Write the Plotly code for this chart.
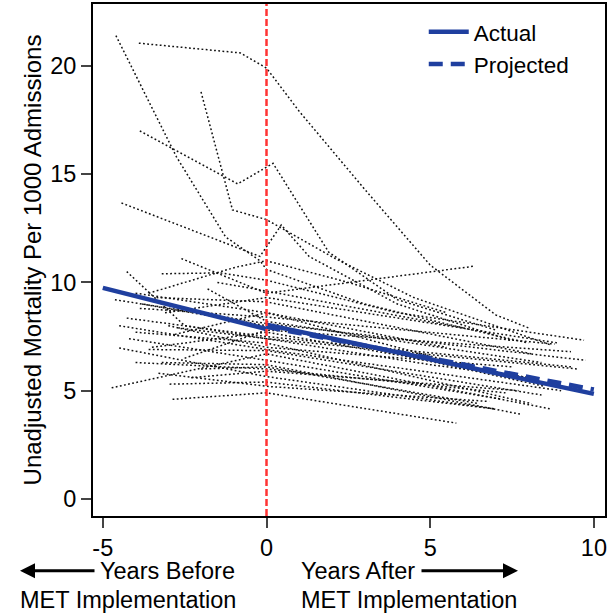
import plotly.graph_objects as go

# ---- data: individual hospital trajectories (years relative to MET, mortality per 1000) ----
hosp_x = [
    [-3.9, -0.8, 0, 1, 3, 5, 7, 8],
    [-4.6, -2.75, -1.25, -0.2, 0, 3, 6, 8],
    [-3.87, -0.88, 0.2, 1.9, 4, 7],
    [-2.0, -1.04, 0, 0.8, 2.1, 4.5, 8.7],
    [-4.43, -0.2, 0.45, 1.3, 4, 7.5],
    [-3.6, -0.95, 0, 2.5, 5.5],
    [-2.6, 0, 6.35],
    [-3.2, -1.4, 0, 4, 9.7],
    [-4.27, -2.5, 0, 5, 8],
    [-4.63, 0, 9.75],
    [-4.27, 0, 9.3],
    [-4.5, 0, 7],
    [-4.73, 0, 8.7],
    [-2.87, 0, 5.8],
    [-3.6, 0, 8.4],
    [-3.2, 0, 7.8],
    [-2.96, 0, 7.0],
    [-3.87, 0, 8.8],
    [-3.36, 0, 8.1],
    [-4.0, 0, 8.1],
    [-3.0, 0, 7.5],
    [-2.5, 0, 9.3],
    [-3.8, 0, 8.5],
    [-4.2, 0, 7.2],
    [-2.0, 0, 6.5],
    [-3.5, 0, 8.0],
    [-1.5, 0, 6.0],
    [-4.5, 0, 9.0],
    [-2.3, 0, 7.7],
    [-3.1, 0, 8.9],
    [-2.8, 0, 5.5],
    [-4.0, 0, 7.3],
    [-1.8, 0, 8.4],
    [-3.3, 0, 6.8],
    [-2.7, 0, 9.5],
    [-4.0, 0, 7.0],
]
hosp_y = [
    [21.05, 20.6, 19.9, 17.9, 14.3, 10.8, 8.5, 7.9],
    [21.4, 15.8, 12.1, 11.0, 10.6, 9.0, 7.9, 7.2],
    [17.0, 14.55, 15.5, 11.4, 9.2, 7.8],
    [18.8, 13.35, 12.9, 12.2, 11.1, 9.3, 7.1],
    [13.67, 11.2, 12.65, 11.2, 9.0, 7.3],
    [9.5, 10.7, 11.0, 10.0, 8.6],
    [11.1, 9.5, 10.75],
    [10.4, 10.44, 10.1, 8.6, 7.33],
    [10.5, 8.0, 7.4, 6.2, 5.6],
    [9.2, 8.1, 6.4],
    [8.35, 7.5, 6.1],
    [6.97, 5.65, 4.15],
    [5.13, 6.7, 4.15],
    [4.6, 4.9, 3.5],
    [6.9, 6.85, 4.8],
    [6.3, 6.2, 3.9],
    [5.3, 5.4, 4.15],
    [8.8, 8.4, 7.15],
    [9.3, 9.1, 6.7],
    [7.7, 7.2, 4.4],
    [8.0, 7.0, 6.1],
    [6.5, 7.8, 6.8],
    [9.0, 8.0, 5.2],
    [7.4, 6.4, 4.6],
    [6.0, 6.1, 4.4],
    [7.0, 7.7, 5.6],
    [10.0, 9.6, 7.9],
    [8.0, 6.9, 5.0],
    [5.6, 5.9, 5.0],
    [8.6, 9.3, 7.2],
    [7.6, 8.6, 7.0],
    [6.3, 6.0, 4.9],
    [9.7, 8.2, 6.3],
    [5.8, 5.2, 4.5],
    [7.9, 7.4, 6.0],
    [9.5, 8.6, 5.8],
]

# pooled trends
actual_pre_x = [-5, 0]
actual_pre_y = [9.75, 7.85]
actual_post_x = [0, 10]
actual_post_y = [8.05, 4.85]
projected_x = [0, 10]
projected_y = [7.95, 5.05]

x_ticks = [-5, 0, 5, 10]
x_tick_labels = ["-5", "0", "5", "10"]
y_ticks = [0, 5, 10, 15, 20]

BLUE = "#1f3f9f"
FONT = "Liberation Sans, Arial, sans-serif"

fig = go.Figure()
for xs, ys in zip(hosp_x, hosp_y):
    fig.add_trace(go.Scatter(x=xs, y=ys, mode="lines", showlegend=False,
                             line=dict(color="#111111", width=1.5, dash="1.8px,2.4px"),
                             hoverinfo="skip"))

fig.add_trace(go.Scatter(x=actual_pre_x, y=actual_pre_y, mode="lines", name="Actual",
                         line=dict(color=BLUE, width=4.5), legendgroup="a"))
fig.add_trace(go.Scatter(x=actual_post_x, y=actual_post_y, mode="lines", showlegend=False,
                         line=dict(color=BLUE, width=4.5), legendgroup="a"))
fig.add_trace(go.Scatter(x=projected_x, y=projected_y, mode="lines", name="Projected",
                         line=dict(color=BLUE, width=4.5, dash="14px,8px")))

fig.add_vline(x=0, line=dict(color="#ff3333", width=2.5, dash="7px,3px"))

ann = []
yrow1 = -0.107
yrow2 = -0.165
def px2paper(px):
    return (px - 93) / 512.0

TF = dict(size=23.5, color="black", family=FONT)
ann.append(dict(x=px2paper(20), y=yrow1, ax=76, ay=0, xref="paper", yref="paper",
                axref="pixel", ayref="pixel", text="", showarrow=True, arrowhead=2,
                arrowsize=1.0, arrowwidth=3, arrowcolor="black"))
ann.append(dict(x=px2paper(518), y=yrow1, ax=-98, ay=0, xref="paper", yref="paper",
                axref="pixel", ayref="pixel", text="", showarrow=True, arrowhead=2,
                arrowsize=1.0, arrowwidth=3, arrowcolor="black"))
ann.append(dict(x=px2paper(237), y=yrow1, xref="paper", yref="paper", text="Years Before",
                showarrow=False, xanchor="right", yanchor="middle", font=TF))
ann.append(dict(x=px2paper(18), y=yrow2, xref="paper", yref="paper", text="MET Implementation",
                showarrow=False, xanchor="left", yanchor="middle", font=TF))
ann.append(dict(x=px2paper(299), y=yrow1, xref="paper", yref="paper", text="Years After",
                showarrow=False, xanchor="left", yanchor="middle", font=TF))
ann.append(dict(x=px2paper(299), y=yrow2, xref="paper", yref="paper", text="MET Implementation",
                showarrow=False, xanchor="left", yanchor="middle", font=TF))

fig.update_layout(
    width=608, height=615,
    margin=dict(l=93, r=3, t=4, b=99, autoexpand=False),
    paper_bgcolor="white", plot_bgcolor="white",
    font=dict(family=FONT, size=22, color="black"),
    annotations=ann,
    legend=dict(x=0.646, y=0.987, xanchor="left", yanchor="top", bgcolor="rgba(0,0,0,0)",
                font=dict(size=22.5, family=FONT), tracegroupgap=0, itemwidth=40),
    xaxis=dict(range=[-5.3, 10.34], tickvals=x_ticks, ticktext=x_tick_labels, ticks="outside",
               ticklen=10, tickwidth=1.5, automargin=False,
               showgrid=False, zeroline=False, showline=True, linecolor="black", linewidth=2,
               mirror=True, tickfont=dict(size=23.5)),
    yaxis=dict(range=[-0.79, 22.86], tickvals=y_ticks, ticks="outside", ticklen=10, tickwidth=1.5,
               automargin=False,
               showgrid=False, zeroline=False, showline=True, linecolor="black", linewidth=2,
               mirror=True, tickfont=dict(size=23.5),
               title=dict(text="Unadjusted Mortality Per 1000 Admissions", font=dict(size=24), standoff=2)),
)

fig.write_html("out.html", config={"displayModeBar": False},
               post_script="document.body.style.margin='0px';document.body.style.overflow='hidden';")
